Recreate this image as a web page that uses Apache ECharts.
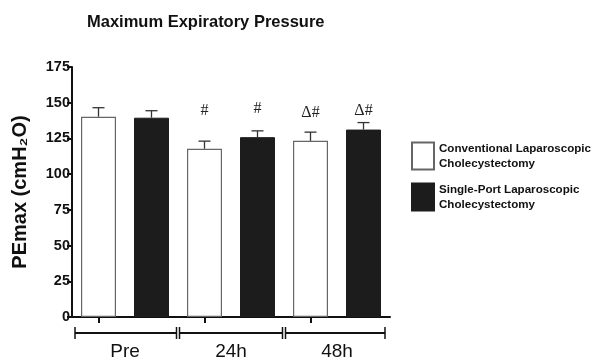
<!DOCTYPE html>
<html><head><meta charset="utf-8">
<script src="https://cdn.jsdelivr.net/npm/echarts@6/dist/echarts.min.js"></script>
<style>html,body{margin:0;padding:0;background:#fff}#c{width:598px;height:361px}</style>
</head><body><div id="c"></div>
<script>
var groups = ['Pre', '24h', '48h'];
var barSlots = ['Pre-CLC', 'Pre-SPLC', '24h-CLC', '24h-SPLC', '48h-CLC', '48h-SPLC'];
var seriesNames = ['Conventional Laparoscopic\nCholecystectomy', 'Single-Port Laparoscopic\nCholecystectomy'];
var clcMeans = [140.2, 117.8, 123.3];
var clcErr = [146.5, 123.1, 129.4];
var splcMeans = [139.5, 125.9, 131.2];
var splcErr = [144.4, 130.3, 136.1];
var annotations = ['', '', '#', '#', '\u0394#', '\u0394#'];
var annotLevel = [0, 0, 144.6, 145.9, 142.6, 144.4];
var yTicks = [0, 25, 50, 75, 100, 125, 150, 175];

var clcData = [], splcData = [], errData = [], annData = [];
for (var i = 0; i < groups.length; i++) {
  clcData.push(clcMeans[i], '-');
  splcData.push('-', splcMeans[i]);
  errData.push([2 * i, clcMeans[i], clcErr[i]]);
  errData.push([2 * i + 1, splcMeans[i], splcErr[i]]);
}
for (var j = 0; j < barSlots.length; j++) {
  if (annotations[j]) annData.push([j, annotLevel[j], annotations[j]]);
}
var bracketData = groups.map(function (g, i) { return [i, 0]; });

var chart = echarts.init(document.getElementById('c'));
var FONT = '"Liberation Sans", Arial, sans-serif';
chart.setOption({
  animation: false,
  title: {
    text: 'Maximum Expiratory Pressure', left: 82, top: 9,
    textStyle: { fontFamily: FONT, fontWeight: 'bold', fontSize: 16.5, color: '#111' }
  },
  legend: {
    orient: 'vertical', left: 406, top: 136, itemWidth: 22, itemHeight: 27, itemGap: 11,
    icon: 'rect',
    data: seriesNames,
    textStyle: { fontFamily: FONT, fontWeight: 'bold', fontSize: 11.6, color: '#111', lineHeight: 15 }
  },
  grid: { left: 72, right: 208, top: 67, bottom: 43 },
  xAxis: [
    {
      type: 'category', data: barSlots, position: 'bottom',
      axisLine: { show: true, lineStyle: { color: '#111', width: 2 } },
      axisTick: { show: true, alignWithLabel: true, length: 6, lineStyle: { color: '#111', width: 2 } },
      axisLabel: { show: false }
    },
    {
      type: 'category', data: groups, position: 'bottom',
      axisLine: { show: false }, axisTick: { show: false },
      axisLabel: { show: true, margin: 25, fontFamily: FONT, fontSize: 19, color: '#111' }
    }
  ],
  yAxis: {
    type: 'value', min: 0, max: 175, interval: 25,
    name: 'PEmax (cmH\u2082O)', nameLocation: 'middle', nameGap: 42, nameRotate: 90,
    nameTextStyle: { fontFamily: FONT, fontWeight: 'bold', fontSize: 20, color: '#111' },
    axisLine: { show: true, lineStyle: { color: '#111', width: 2 } },
    axisTick: { show: true, length: 5, lineStyle: { color: '#111', width: 2 } },
    axisLabel: { margin: 2, fontFamily: FONT, fontWeight: 'bold', fontSize: 14.5, color: '#111' },
    splitLine: { show: false }
  },
  series: [
    {
      name: seriesNames[0], type: 'bar', xAxisIndex: 0, data: clcData,
      barWidth: 35, barGap: '-100%',
      itemStyle: { color: '#fff', borderColor: '#666', borderWidth: 1.2 }
    },
    {
      name: seriesNames[1], type: 'bar', xAxisIndex: 0, data: splcData,
      barWidth: 35, barGap: '-100%',
      itemStyle: { color: '#1c1c1c', borderColor: '#1c1c1c', borderWidth: 1 }
    },
    {
      type: 'custom', xAxisIndex: 0, data: errData, z: 5, silent: true,
      renderItem: function (params, api) {
        var x = api.value(0);
        var top = api.coord([x, api.value(2)]);
        var base = api.coord([x, api.value(1)]);
        var half = 6;
        return {
          type: 'group', children: [
            { type: 'line', shape: { x1: top[0], y1: base[1], x2: top[0], y2: top[1] }, style: { stroke: '#333', lineWidth: 1.3 } },
            { type: 'line', shape: { x1: top[0] - half, y1: top[1], x2: top[0] + half, y2: top[1] }, style: { stroke: '#333', lineWidth: 1.3 } }
          ]
        };
      }
    },
    {
      type: 'custom', xAxisIndex: 0, data: annData, z: 6, silent: true,
      renderItem: function (params, api) {
        var p = api.coord([api.value(0), api.value(1)]);
        return {
          type: 'text', x: p[0], y: p[1],
          style: { text: annData[params.dataIndex][2], textAlign: 'center', textVerticalAlign: 'middle',
            font: '16px "Liberation Serif", "Times New Roman", serif', fill: '#222' }
        };
      }
    },
    {
      type: 'custom', xAxisIndex: 1, data: bracketData, z: 6, silent: true, clip: false,
      renderItem: function (params, api) {
        var i = api.value(0);
        var c = api.coord([i, 0]);
        var w = api.size([1, 0])[0];
        var y = c[1] + 16;
        var left = c[0] - w / 2, right = c[0] + w / 2;
        var n = groups.length;
        var st = { stroke: '#111', lineWidth: 2 };
        var kids = [];
        var l = i === 0 ? left + 3 : left + 1.5;
        var r = i === n - 1 ? right - 5 : right - 1.5;
        kids.push({ type: 'line', shape: { x1: l, y1: y, x2: r, y2: y }, style: st });
        kids.push({ type: 'line', shape: { x1: l, y1: y - 6, x2: l, y2: y + 6 }, style: { stroke: '#111', lineWidth: 1.5 } });
        kids.push({ type: 'line', shape: { x1: r, y1: y - 6, x2: r, y2: y + 6 }, style: { stroke: '#111', lineWidth: 1.5 } });
        return { type: 'group', children: kids };
      }
    }
  ]
});
</script></body></html>
